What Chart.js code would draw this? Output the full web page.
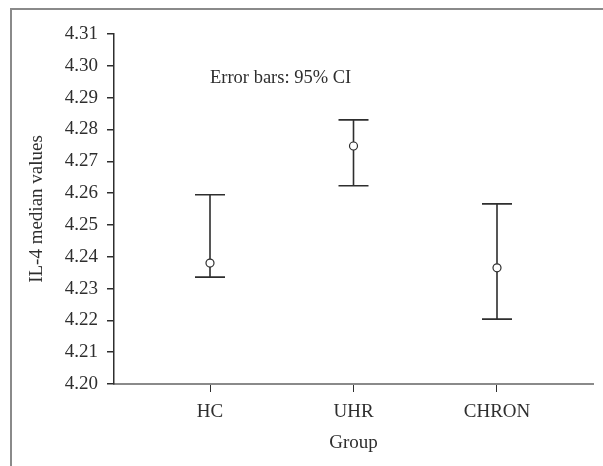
<!DOCTYPE html>
<html>
<head>
<meta charset="utf-8">
<script src="https://cdn.jsdelivr.net/npm/chart.js@4/dist/chart.umd.min.js"></script>
<style>
  html, body { margin: 0; padding: 0; background: #fff; }
  #wrap { position: relative; width: 603px; height: 466px; }
  #frame {
    position: absolute; left: 10px; top: 8px; right: -5px; bottom: -5px;
    border-left: 2px solid #8a8a8a; border-top: 2px solid #8a8a8a;
  }
  canvas { position: absolute; left: 0; top: 0; }
</style>
</head>
<body>
<div id="wrap">
  <div id="frame"></div>
  <canvas id="ciChart" width="603" height="466"></canvas>
</div>
<script>
// Group medians with 95% CI
const groups = ["HC", "UHR", "CHRON"];
const medians = [4.2380, 4.2748, 4.2365];
const ciLower = [4.2336, 4.2623, 4.2204];
const ciUpper = [4.2595, 4.2830, 4.2566];
const yTicks = [4.20, 4.21, 4.22, 4.23, 4.24, 4.25, 4.26, 4.27, 4.28, 4.29, 4.30, 4.31];

const serif = "'Liberation Serif', 'DejaVu Serif', serif";
const ink = "#2e2e2e";

// draws the CI whiskers under the points
const errorBars = {
  id: "errorBars",
  beforeDatasetsDraw(chart) {
    const { ctx, scales } = chart;
    const x = scales.x, y = scales.y;
    ctx.save();
    ctx.strokeStyle = ink;
    ctx.lineWidth = 1.6;
    groups.forEach((g, i) => {
      const px = x.getPixelForValue(i + 1);
      const top = y.getPixelForValue(ciUpper[i]);
      const bot = y.getPixelForValue(ciLower[i]);
      ctx.beginPath();
      ctx.moveTo(px, top); ctx.lineTo(px, bot);
      ctx.moveTo(px - 15, top); ctx.lineTo(px + 15, top);
      ctx.moveTo(px - 15, bot); ctx.lineTo(px + 15, bot);
      ctx.stroke();
    });
    ctx.restore();
  },
  afterDraw(chart) {
    const { ctx, scales } = chart;
    ctx.save();
    ctx.font = "18.5px " + serif;
    ctx.fillStyle = ink;
    ctx.textAlign = "left";
    ctx.textBaseline = "middle";
    ctx.fillText("Error bars: 95% CI", scales.x.getPixelForValue(1), scales.y.getPixelForValue(4.296));
    ctx.restore();
  },
};

const ctx = document.getElementById("ciChart").getContext("2d");
new Chart(ctx, {
  type: "scatter",
  data: {
    datasets: [
      {
        data: medians.map((m, i) => ({ x: i + 1, y: m })),
        pointRadius: 4,
        pointHoverRadius: 4,
        pointBackgroundColor: "#fff",
        pointBorderColor: ink,
        pointBorderWidth: 1.2,
      },
    ],
  },
  options: {
    responsive: false,
    animation: false,
    layout: { padding: { top: 34, right: 10, left: 0, bottom: 0 } },
    plugins: {
      legend: { display: false },
      tooltip: { enabled: false },
    },
    scales: {
      x: {
        type: "linear",
        min: 0.331,
        max: 3.669,
        afterBuildTicks: (s) => { s.ticks = groups.map((g, i) => ({ value: i + 1 })); },
        afterFit: (s) => { s.height = 82; },
        ticks: {
          callback: (v) => groups[v - 1],
          color: ink,
          font: { family: serif, size: 19 },
          padding: 9,
        },
        grid: { drawOnChartArea: false, tickLength: 8, color: ink, lineWidth: 1 },
        border: { color: "#8a8a8a", width: 2 },
        title: {
          display: true,
          text: "Group",
          color: ink,
          font: { family: serif, size: 19 },
          padding: { top: 0, bottom: 12 },
        },
      },
      y: {
        min: 4.20,
        max: 4.31,
        afterBuildTicks: (s) => { s.ticks = yTicks.map((v) => ({ value: v })); },
        afterFit: (s) => { s.width = 114; },
        ticks: {
          callback: (v) => v.toFixed(2),
          color: ink,
          font: { family: serif, size: 19 },
          padding: 9,
        },
        grid: { drawOnChartArea: false, tickLength: 7, color: ink, lineWidth: 1.5 },
        border: { color: ink, width: 1.5 },
        title: {
          display: true,
          text: "IL-4 median values",
          color: ink,
          font: { family: serif, size: 19 },
          padding: { top: 26, bottom: 0 },
        },
      },
    },
  },
  plugins: [errorBars],
});
</script>
</body>
</html>
